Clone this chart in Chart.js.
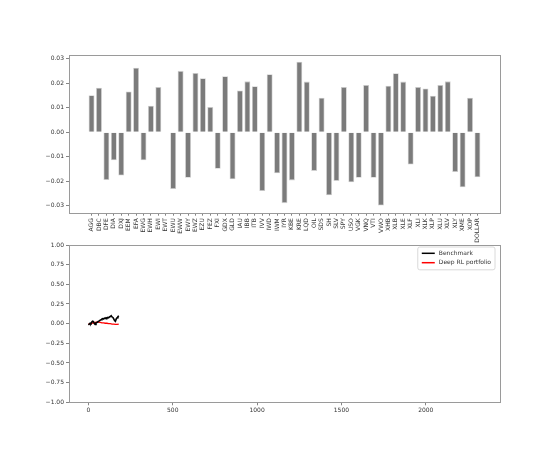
<!DOCTYPE html>
<html>
<head>
<meta charset="utf-8">
<script src="https://cdn.jsdelivr.net/npm/chart.js@4.4.1/dist/chart.umd.min.js"></script>
<style>
  html, body { margin: 0; padding: 0; background: #ffffff; }
  #wrap { position: relative; width: 552px; height: 460px; overflow: hidden; background: #fff; }
  canvas { position: absolute; left: 0; }
</style>
</head>
<body>
<div id="wrap">
  <canvas id="top" width="552" height="245" style="top:0px;width:552px;height:245px"></canvas>
  <canvas id="bottom" width="552" height="225" style="top:235px;width:552px;height:225px"></canvas>
</div>
<script>
// ---- data ----
const categories = ['AGG','DBC','DFE','DIA','DXJ','EEM','EFA','EWG','EWH','EWI','EWT','EWU','EWW','EWY','EWZ','EZU','FEZ','FXI','GDX','GLD','IAU','IBB','ITB','IVV','IWD','IWM','IYR','KBE','KRE','LQD','OIL','SDS','SH','SLV','SPY','USO','VGK','VNQ','VTI','VWO','XHB','XLB','XLE','XLF','XLI','XLK','XLP','XLU','XLV','XLY','XME','XOP','DOLLAR'];
const weights = [0.0151,0.0182,-0.0195,-0.0115,-0.0177,0.0167,0.0264,-0.0115,0.0108,0.0185,0,-0.0232,0.0251,-0.0186,0.0242,0.0221,0.0103,-0.0149,0.0229,-0.0192,0.0171,0.0208,0.0188,-0.0240,0.0237,-0.0168,-0.0290,-0.0197,0.0288,0.0207,-0.0158,0.0141,-0.0258,-0.0199,0.0185,-0.0205,-0.0186,0.0193,-0.0186,-0.0300,0.0190,0.0241,0.0207,-0.0132,0.0185,0.0179,0.0149,0.0193,0.0208,-0.0163,-0.0225,0.0141,-0.0184];
const topYTicks = [-0.03,-0.02,-0.01,0.00,0.01,0.02,0.03];

const benchDays = [0,5,10,15,20,25,30,35,40,45,50,55,60,65,70,75,80,85,90,95,100,105,110,115,120,125,130,135,140,145,150,155,160,165,170,175,180];
const benchmark = [-0.015,-0.005,0.005,0.0,0.02,0.03,0.025,0.0,-0.01,0.01,0.015,0.02,0.03,0.035,0.045,0.05,0.06,0.065,0.06,0.07,0.065,0.075,0.07,0.08,0.075,0.085,0.09,0.10,0.085,0.08,0.06,0.04,0.03,0.06,0.075,0.09,0.10];
const rlDays = [0,10,20,30,40,50,60,70,80,90,100,110,120,130,140,150,160,170,180];
const rlPortfolio = [-0.01,0.0,0.005,0.01,0.015,0.02,0.02,0.015,0.01,0.01,0.005,0.005,0.0,0.0,-0.005,-0.005,-0.01,-0.01,-0.005];
const bottomXTicks = [0,500,1000,1500,2000];
const bottomYTicks = [-1.00,-0.75,-0.50,-0.25,0.00,0.25,0.50,0.75,1.00];
const seriesNames = ['Benchmark','Deep RL portfolio'];

// ---- style ----
const FONT = 'DejaVu Sans';
const TXT = '#333333';
const SPINE = '#9a9a9a';
Chart.defaults.font.family = FONT;
Chart.defaults.font.size = 6;
Chart.defaults.color = TXT;
Chart.defaults.animation = false;

const fmt = (v) => { const s = Number(v).toFixed(2); return s.replace('-', '\u2212'); };

const framePlugin = {
  id: 'frame',
  afterDraw(chart) {
    const a = chart.chartArea, c = chart.ctx;
    c.save();
    c.strokeStyle = SPINE;
    c.lineWidth = 1;
    c.strokeRect(Math.round(a.left) + 0.5, Math.round(a.top) + 0.5, Math.round(a.right - a.left), Math.round(a.bottom - a.top));
    c.restore();
  }
};

const legendPlugin = {
  id: 'boxLegend',
  afterDraw(chart) {
    const a = chart.chartArea, c = chart.ctx;
    const ds = chart.data.datasets;
    c.save();
    c.font = '6px "' + FONT + '"';
    let maxW = 0;
    ds.forEach(d => { maxW = Math.max(maxW, c.measureText(d.label).width); });
    const lineLen = 13, gap = 4, padX = 4, rowH = 9.4;
    const w = padX + lineLen + gap + maxW + padX;
    const h = rowH * ds.length + 4;
    const x = a.right - 5 - w, y = a.top + 2;
    c.fillStyle = 'rgba(255,255,255,0.85)';
    c.strokeStyle = '#d0d0d0';
    c.lineWidth = 0.8;
    c.beginPath();
    if (c.roundRect) c.roundRect(x, y, w, h, 2); else c.rect(x, y, w, h);
    c.fill(); c.stroke();
    ds.forEach((d, i) => {
      const cy = y + 6.3 + i * rowH;
      c.strokeStyle = d.borderColor;
      c.lineWidth = 1.5;
      c.beginPath(); c.moveTo(x + padX, cy); c.lineTo(x + padX + lineLen, cy); c.stroke();
      c.fillStyle = TXT;
      c.textBaseline = 'middle';
      c.textAlign = 'left';
      c.fillText(d.label, x + padX + lineLen + gap, cy);
    });
    c.restore();
  }
};

const tickGrid = { display: true, drawOnChartArea: false, drawTicks: true, tickLength: 3, color: '#666', lineWidth: 0.8 };

// ---- top chart ----
new Chart(document.getElementById('top'), {
  type: 'bar',
  data: {
    datasets: [{
      data: weights.map((v, i) => ({ x: i, y: v })),
      backgroundColor: '#7b7b7b',
      borderColor: '#cfcfcf',
      borderWidth: 0.8,
      barPercentage: 0.8,
      categoryPercentage: 1.0
    }]
  },
  options: {
    responsive: false,
    devicePixelRatio: 1,
    layout: { padding: { top: 54.7, right: 52, left: 0, bottom: 0 } },
    plugins: { legend: { display: false }, tooltip: { enabled: false } },
    scales: {
      x: {
        type: 'linear', min: -3.04, max: 55.04, offset: false,
        afterBuildTicks: (s) => { s.ticks = categories.map((c, i) => ({ value: i })); },
        afterFit: (s) => { s.height = 32.3; },
        ticks: { autoSkip: false, minRotation: 90, maxRotation: 90, padding: 2.5, font: { size: 6 },
                 callback: (v, i) => categories[i] },
        grid: Object.assign({}, tickGrid, { offset: false }),
        border: { display: false }
      },
      y: {
        min: -0.0329, max: 0.0317,
        afterBuildTicks: (s) => { s.ticks = topYTicks.map(v => ({ value: v })); },
        afterFit: (s) => { s.width = 69; },
        ticks: { padding: 2, font: { size: 6 }, callback: (v) => fmt(v) },
        grid: tickGrid,
        border: { display: false }
      }
    }
  },
  plugins: [framePlugin]
});

// ---- bottom chart ----
new Chart(document.getElementById('bottom'), {
  type: 'line',
  data: {
    datasets: [
      { label: seriesNames[0], data: benchDays.map((d, i) => ({ x: d, y: benchmark[i] })),
        borderColor: '#000000', borderWidth: 1.6, pointRadius: 0, tension: 0, fill: false },
      { label: seriesNames[1], data: rlDays.map((d, i) => ({ x: d, y: rlPortfolio[i] })),
        borderColor: '#ff0000', borderWidth: 1.3, pointRadius: 0, tension: 0, fill: false }
    ]
  },
  options: {
    responsive: false,
    devicePixelRatio: 1,
    layout: { padding: { top: 10, right: 52, left: 0, bottom: 37.7 } },
    plugins: { legend: { display: false }, tooltip: { enabled: false } },
    scales: {
      x: {
        type: 'linear', min: -115, max: 2440,
        afterBuildTicks: (s) => { s.ticks = bottomXTicks.map(v => ({ value: v })); },
        afterFit: (s) => { s.height = 20; },
        ticks: { maxRotation: 0, padding: 2, font: { size: 6 }, callback: (v) => String(v) },
        grid: tickGrid,
        border: { display: false }
      },
      y: {
        min: -1, max: 1,
        afterBuildTicks: (s) => { s.ticks = bottomYTicks.map(v => ({ value: v })); },
        afterFit: (s) => { s.width = 69; },
        ticks: { padding: 2, font: { size: 6 }, callback: (v) => fmt(v) },
        grid: tickGrid,
        border: { display: false }
      }
    }
  },
  plugins: [framePlugin, legendPlugin]
});
</script>
</body>
</html>
